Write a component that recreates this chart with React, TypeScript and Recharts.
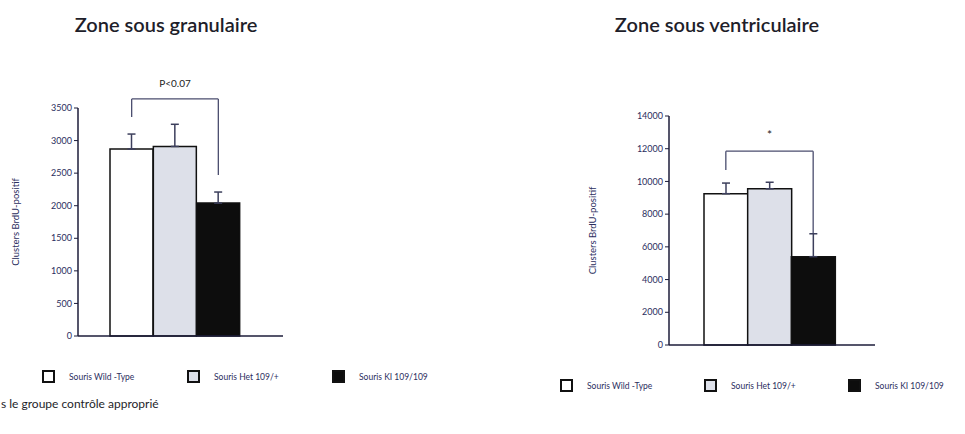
import { BarChart, Bar, XAxis, YAxis, Cell, ErrorBar, ReferenceLine } from 'recharts';

const GROUPS = ['Souris Wild -Type', 'Souris Het 109/+', 'Souris KI 109/109'];
const FILLS = ['#ffffff', '#dde0e9', '#0d0d0d'];

const SGZ_MEANS = [2870, 2910, 2040];
const SGZ_ERR = [230, 340, 170];
const SGZ_TICKS = [0, 500, 1000, 1500, 2000, 2500, 3000, 3500];

const SVZ_MEANS = [9250, 9550, 5400];
const SVZ_ERR = [650, 400, 1400];
const SVZ_TICKS = [0, 2000, 4000, 6000, 8000, 10000, 12000, 14000];

// significance brackets: [top, left drop end, right drop end]
const SGZ_BRACKET = [3640, 3360, 2470];
const SVZ_BRACKET = [11850, 10700, 6850];

const NAVY = '#2b2e5e';
const AXIS = '#1c1c3a';
const FONT = 'Lato, "Open Sans", sans-serif';

function buildRows(means: number[], errs: number[]) {
  return GROUPS.map((g, i) => ({ name: g, value: means[i], err: [0, errs[i]] }));
}

interface PanelProps {
  means: number[];
  errs: number[];
  ticks: number[];
  bracket: number[];
  sig: string;
  width: number;
  height: number;
  margin: { top: number; right: number; bottom: number; left: number };
  axisWidth: number;
  padding: { left: number; right: number };
  labelOffset: number;
}

function Panel(p: PanelProps) {
  const rows = buildRows(p.means, p.errs);
  const first = GROUPS[0];
  const last = GROUPS[GROUPS.length - 1];
  const max = p.ticks[p.ticks.length - 1];
  const line = { stroke: '#4a4d6e', strokeWidth: 1.3, ifOverflow: 'visible' as const };
  return (
    <BarChart width={p.width} height={p.height} data={rows} margin={p.margin} barCategoryGap={0}>
      <XAxis
        dataKey="name"
        tick={false}
        tickLine={false}
        height={1}
        padding={p.padding}
        axisLine={{ stroke: AXIS, strokeWidth: 1.5 }}
      />
      <YAxis
        domain={[0, max]}
        ticks={p.ticks}
        interval={0}
        width={p.axisWidth}
        tickSize={4}
        axisLine={{ stroke: AXIS, strokeWidth: 1.5 }}
        tickLine={{ stroke: AXIS }}
        tick={{ fill: NAVY, fontSize: 9, fontFamily: FONT }}
        label={{
          value: 'Clusters BrdU-positif',
          angle: -90,
          position: 'insideLeft',
          offset: p.labelOffset,
          style: { fill: NAVY, fontSize: 9.5, fontFamily: FONT, textAnchor: 'middle' },
        }}
      />
      <Bar dataKey="value" isAnimationActive={false} stroke="#111" strokeWidth={1.5}>
        {rows.map((_r, i) => (
          <Cell key={`c-${i}`} fill={FILLS[i]} />
        ))}
        <ErrorBar dataKey="err" width={4} stroke="#3c3f5c" strokeWidth={1.5} />
      </Bar>
      <ReferenceLine
        {...line}
        segment={[{ x: first, y: p.bracket[0] }, { x: last, y: p.bracket[0] }]}
        label={{ value: p.sig, position: 'top', offset: 12, fill: '#222', fontSize: p.sig === '*' ? 12 : 10, fontFamily: FONT }}
      />
      <ReferenceLine {...line} segment={[{ x: first, y: p.bracket[0] }, { x: first, y: p.bracket[1] }]} />
      <ReferenceLine {...line} segment={[{ x: last, y: p.bracket[0] }, { x: last, y: p.bracket[2] }]} />
    </BarChart>
  );
}

function Legend({ left, top, gap }: { left: number; top: number; gap: number }) {
  return (
    <div style={{ position: 'absolute', left, top, display: 'flex', alignItems: 'center', fontFamily: FONT }}>
      {GROUPS.map((g, i) => (
        <div key={g} style={{ display: 'flex', alignItems: 'center', width: gap }}>
          <div
            style={{
              width: 9,
              height: 9,
              background: FILLS[i],
              border: '2px solid #111',
              marginRight: 14,
            }}
          />
          <span style={{ fontSize: 8.5, color: NAVY, whiteSpace: 'nowrap' }}>{g}</span>
        </div>
      ))}
    </div>
  );
}

export default function App() {
  const title = {
    position: 'absolute' as const,
    top: 12,
    fontFamily: FONT,
    fontSize: 20,
    fontWeight: 600,
    color: '#1e1e2a',
    transform: 'translateX(-50%)',
    whiteSpace: 'nowrap' as const,
  };
  return (
    <div style={{ position: 'absolute', left: 0, top: 0, width: 965, height: 434, background: '#fff', overflow: 'hidden' }}>
      <div style={{ ...title, left: 166 }}>Zone sous granulaire</div>
      <div style={{ ...title, left: 717 }}>Zone sous ventriculaire</div>

      <div style={{ position: 'absolute', left: 0, top: 0 }}>
        <Panel
          means={SGZ_MEANS}
          errs={SGZ_ERR}
          ticks={SGZ_TICKS}
          bracket={SGZ_BRACKET}
          sig="P<0.07"
          width={300}
          height={350}
          margin={{ top: 108, right: 17, bottom: 13, left: 0 }}
          axisWidth={78}
          padding={{ left: 32, right: 43 }}
          labelOffset={16}
        />
      </div>
      <div style={{ position: 'absolute', left: 575, top: 0 }}>
        <Panel
          means={SVZ_MEANS}
          errs={SVZ_ERR}
          ticks={SVZ_TICKS}
          bracket={SVZ_BRACKET}
          sig="*"
          width={315}
          height={360}
          margin={{ top: 116, right: 15, bottom: 14, left: 0 }}
          axisWidth={94}
          padding={{ left: 35, right: 40 }}
          labelOffset={18}
        />
      </div>

      <Legend left={42} top={370} gap={145} />
      <Legend left={560} top={379} gap={144} />

      <div style={{ position: 'absolute', left: 1, top: 396, fontFamily: FONT, fontSize: 12, color: '#1e1e2a' }}>
        s le groupe contrôle approprié
      </div>
    </div>
  );
}
